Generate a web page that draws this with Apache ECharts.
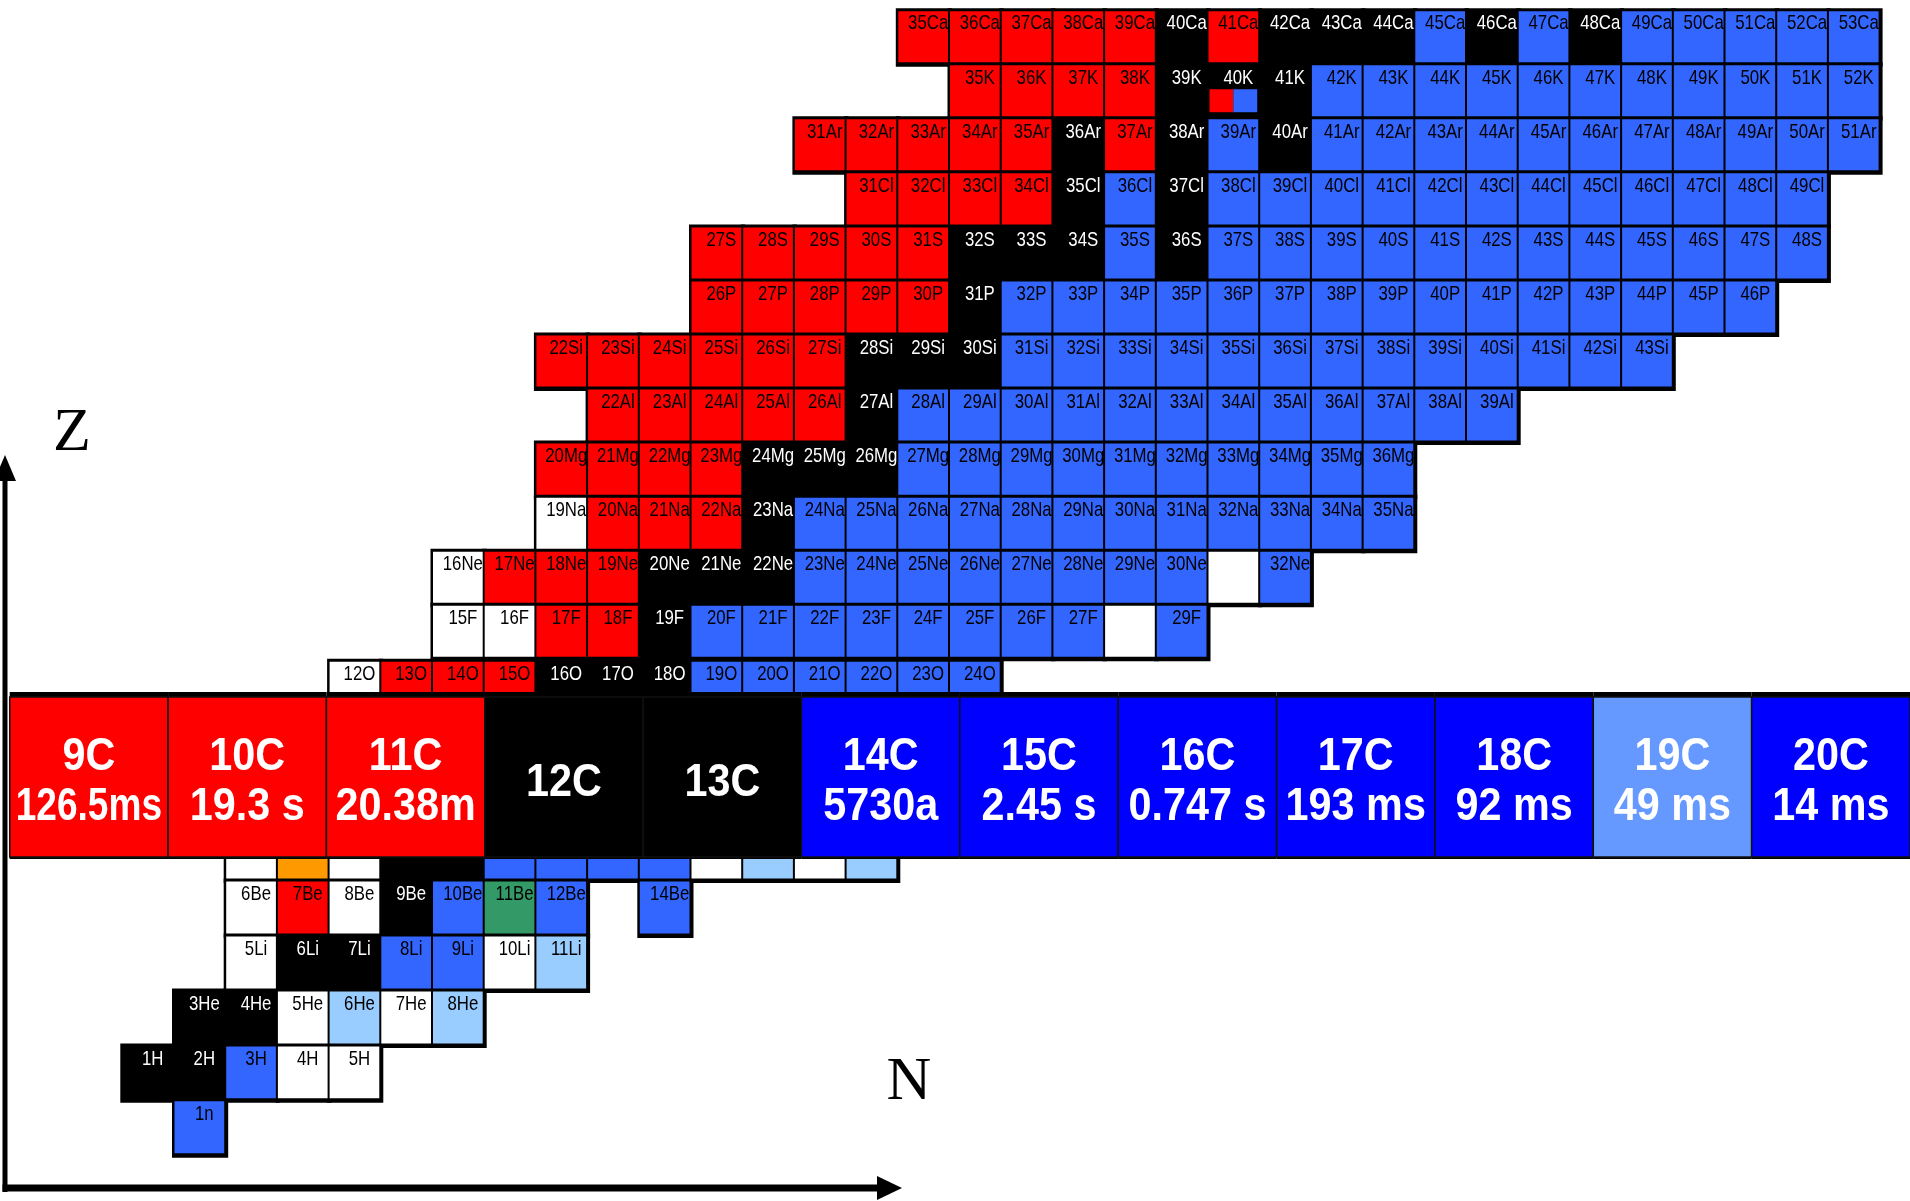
<!DOCTYPE html>
<html>
<head>
<meta charset="utf-8">
<title>Chart of nuclides</title>
<script src="https://cdn.jsdelivr.net/npm/echarts@6/dist/echarts.min.js"></script>
<style>
  html, body { margin: 0; padding: 0; background: #fff; }
  #main { width: 1910px; height: 1201px; }
</style>
</head>
<body>
<div id="main"></div>
<script>
// rows of the chart, top to bottom (Z = proton number, N = neutron number)
const rowZ      = [20, 19, 18, 17, 16, 15, 14, 13, 12, 11, 10, 9, 8, 5, 4, 3, 2, 1, 0]
const rowSymbol = ['Ca', 'K', 'Ar', 'Cl', 'S', 'P', 'Si', 'Al', 'Mg', 'Na', 'Ne', 'F', 'O', 'B', 'Be', 'Li', 'He', 'H', 'n']
const rowFirstN = [15, 16, 13, 14, 11, 11, 8, 9, 8, 8, 6, 6, 4, 2, 2, 2, 1, 0, 1]
// r = beta+/EC, k = stable, b = beta-, w = unbound, u = unbound (no label),
// l = neutron emitter, o = 8B, g = 11Be, x = 40K (mixed), . = no cell
const rowStatus = [
  'rrrrrkrkkkbkbkbbbbb',
  'rrrrkxkbbbbbbbbbbb',
  'rrrrrkrkbkbbbbbbbbbbb',
  'rrrrkbkbbbbbbbbbbbb',
  'rrrrrkkkbkbbbbbbbbbbbb',
  'rrrrrkbbbbbbbbbbbbbbb',
  'rrrrrrkkkbbbbbbbbbbbbb',
  'rrrrrkbbbbbbbbbbbb',
  'rrrrkkkbbbbbbbbbb',
  'wrrrkbbbbbbbbbbbb',
  'wrrrkkkbbbbbbbbub',
  'wwrrkbbbbbbbbub',
  'wrrrkkkbbbbbb',
  'wowkkbbbbwlwl',
  'wrwkbgb.b',
  'wkkbbwl',
  'kkwlwl',
  'kkbww',
  'b'
]

// magnified carbon strip
const carbonName     = ['9C', '10C', '11C', '12C', '13C', '14C', '15C', '16C', '17C', '18C', '19C', '20C']
const carbonHalfLife = ['126.5ms', '19.3 s', '20.38m', '', '', '5730a', '2.45 s', '0.747 s', '193 ms', '92 ms', '49 ms', '14 ms']
const carbonStatus   = ['r', 'r', 'r', 'k', 'k', 'B', 'B', 'B', 'B', 'B', 'L', 'B']

const colorOf = { r: '#ff0000', k: '#000000', b: '#3366ff', w: '#ffffff', u: '#ffffff', l: '#99ccff', o: '#ff9900', g: '#339966', x: '#000000' }
const stripColor = { r: '#ff0000', k: '#000000', B: '#0000ff', L: '#6699ff' }

const cells = []
rowZ.forEach((z, r) => {
  for (let i = 0; i < rowStatus[r].length; i++) {
    const s = rowStatus[r][i]
    if (s === '.') continue
    const n = rowFirstN[r] + i
    cells.push({ n: n, z: z, s: s, label: (n + z) + rowSymbol[r] })
  }
})
// upper block (Z >= 9) and lower block (Z <= 8) sit on two grids
const upperCells = cells.filter(c => c.z >= 9)
const lowerCells = cells.filter(c => c.z <= 8)

const smallFont = '21px "Liberation Sans", Arial, sans-serif'
const bigFont = 'bold 47px "Liberation Sans", Arial, sans-serif'
const measure = document.createElement('canvas').getContext('2d')
measure.font = bigFont

function cellBox(api) {
  const n = api.value(0), z = api.value(1)
  const p0 = api.coord([n, z + 1])
  const p1 = api.coord([n + 1, z])
  return { x: p0[0], y: p0[1], w: p1[0] - p0[0], h: p1[1] - p0[1] }
}

function cellSeries(axisIndex, list) {
  const data = list.map(c => [c.n, c.z])
  return [
    {
      // black frame / shadow under every cell
      type: 'custom',
      xAxisIndex: axisIndex,
      yAxisIndex: axisIndex,
      z: 1,
      data: data,
      renderItem: (params, api) => {
        const b = cellBox(api)
        return {
          type: 'rect',
          shape: { x: b.x - 1.5, y: b.y - 1.5, width: b.w + 4.5, height: b.h + 4.5 },
          style: { fill: '#000' }
        }
      }
    },
    {
      type: 'custom',
      xAxisIndex: axisIndex,
      yAxisIndex: axisIndex,
      z: 2,
      data: data,
      renderItem: (params, api) => {
        const c = list[params.dataIndex]
        const b = cellBox(api)
        const x0 = b.x + 1, y0 = b.y + 1.5, w = b.w - 2, h = b.h - 3
        const children = [
          { type: 'rect', shape: { x: x0, y: y0, width: w, height: h }, style: { fill: colorOf[c.s] } }
        ]
        if (c.s === 'x') {
          children.push({ type: 'rect', shape: { x: x0 + 1, y: y0 + h * 0.47, width: w / 2 - 1, height: h * 0.45 }, style: { fill: '#ff0000' } })
          children.push({ type: 'rect', shape: { x: x0 + w / 2, y: y0 + h * 0.47, width: w / 2 - 1, height: h * 0.45 }, style: { fill: '#3366ff' } })
        }
        if (c.s !== 'u' && c.z !== 5) {
          children.push({
            type: 'text',
            x: x0 + w / 2 + 5,
            y: b.y + 14,
            scaleX: 0.8,
            style: {
              text: c.label,
              x: 0,
              y: 0,
              font: smallFont,
              fill: (c.s === 'k' || c.s === 'x') ? '#fff' : '#000',
              align: 'center',
              verticalAlign: 'middle'
            }
          })
        }
        return { type: 'group', children: children }
      }
    }
  ]
}

var myChart = echarts.init(document.getElementById('main'), null, { renderer: 'canvas' })
var option = {
  backgroundColor: '#fff',
  animation: false,
  grid: [
    { left: 18.4, right: 0, top: 9.7, height: 648.6 },
    { left: 9.7, right: 0, top: 697, height: 160 },
    { left: 18.4, right: 0, top: 660.3, height: 494.5 }
  ],
  xAxis: [
    { type: 'value', gridIndex: 0, min: -2, max: 34.588, show: false },
    { type: 'category', gridIndex: 1, data: carbonName, show: false },
    { type: 'value', gridIndex: 2, min: -2, max: 34.588, show: false }
  ],
  yAxis: [
    { type: 'value', gridIndex: 0, min: 9, max: 21, show: false },
    { type: 'value', gridIndex: 1, min: 0, max: 1, show: false },
    { type: 'value', gridIndex: 2, min: 0, max: 9, show: false }
  ],
  graphic: [
    // Z axis
    { type: 'rect', shape: { x: 2.5, y: 470, width: 5, height: 722 }, style: { fill: '#000' } },
    { type: 'polygon', shape: { points: [[5, 455], [-6, 481], [16, 481]] }, style: { fill: '#000' } },
    // N axis
    { type: 'rect', shape: { x: 2.5, y: 1184.5, width: 878, height: 7 }, style: { fill: '#000' } },
    { type: 'polygon', shape: { points: [[902, 1188], [877, 1176], [877, 1200]] }, style: { fill: '#000' } },
    { type: 'text', x: 72, y: 434, style: { text: 'Z', font: '62px "Liberation Serif", serif', fill: '#000', align: 'center', verticalAlign: 'middle' } },
    { type: 'text', x: 909, y: 1083, style: { text: 'N', font: '62px "Liberation Serif", serif', fill: '#000', align: 'center', verticalAlign: 'middle' } }
  ],
  series: [
    ...cellSeries(0, upperCells),
    ...cellSeries(2, lowerCells),
    {
      // magnified carbon row
      type: 'custom',
      xAxisIndex: 1,
      yAxisIndex: 1,
      z: 3,
      data: carbonName.map((name, i) => [i, 0]),
      renderItem: (params, api) => {
        const i = params.dataIndex
        const top = api.coord([i, 1])
        const bottom = api.coord([i, 0])[1]
        const w = api.size([1, 0])[0]
        const x0 = top[0] - w / 2
        const h = bottom - top[1]
        const children = [
          { type: 'rect', shape: { x: x0, y: top[1] - 5, width: w, height: h + 7 }, style: { fill: '#000' } },
          { type: 'rect', shape: { x: x0, y: top[1], width: w, height: h }, style: { fill: stripColor[carbonStatus[i]], stroke: '#111', lineWidth: 1.5 } }
        ]
        const lines = carbonHalfLife[i] ? [carbonName[i], carbonHalfLife[i]] : [carbonName[i]]
        const ys = lines.length === 2 ? [0.375, 0.685] : [0.535]
        lines.forEach((t, k) => {
          const sx = Math.min(0.88, (w - 12) / measure.measureText(t).width)
          children.push({
            type: 'text',
            x: top[0],
            y: top[1] + h * ys[k],
            scaleX: sx,
            style: { text: t, x: 0, y: 0, font: bigFont, fill: '#fff', align: 'center', verticalAlign: 'middle' }
          })
        })
        return { type: 'group', children: children }
      }
    }
  ]
}
myChart.setOption(option)
</script>
</body>
</html>
